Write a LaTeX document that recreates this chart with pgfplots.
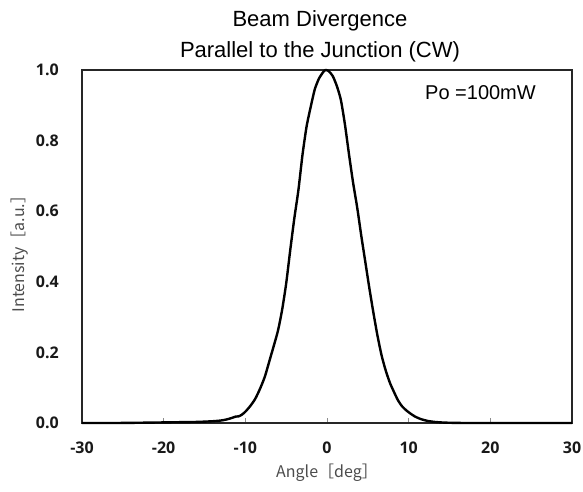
\documentclass[border=0pt]{standalone}
\usepackage{pgfplots}
\pgfplotsset{compat=1.18}
\usepackage{fontspec}
\setmainfont{Liberation Sans}
\newfontfamily\tickfont{Open Sans}
\newfontfamily\jpfont{Noto Sans CJK JP}
\begin{document}
\begin{tikzpicture}
\begin{axis}[
  at={(0pt,0pt)}, anchor=south west,
  width=490pt, height=353pt, scale only axis,
  xmin=-30, xmax=30, ymin=0, ymax=1,
  xtick={-30,-20,-10,0,10,20,30},
  xticklabels={-30,-20,-10,0,10,20,30},
  ytick={0,0.2,0.4,0.6,0.8,1.0},
  yticklabels={0.0,0.2,0.4,0.6,0.8,1.0},
  xtick pos=bottom, tick align=inside,
  major tick length=5pt,
  xtick style={draw=black!45, line width=0.8pt},
  ytick style={draw=none},
  axis line style={draw=black!85, line width=1.3pt},
  ticklabel style={font=\tickfont\bfseries\fontsize{16}{18}\selectfont, text=black!90},
  yticklabel style={inner sep=0pt, anchor=east, xshift=-23pt},
  xticklabel style={inner sep=0pt, anchor=north, yshift=-19pt},
  xlabel={Angle［deg］},
  ylabel={Intensity［a.u.］},
  label style={font=\jpfont\fontsize{16}{18}\selectfont, text=black!70},
  xlabel style={at={(axis description cs:0.5,-0.142)}, anchor=center},
  ylabel style={at={(axis description cs:-0.1265,0.49)}, anchor=center},
  clip=false,
]
\addplot[black, line width=2.4pt, line join=round, smooth, tension=0.4] coordinates {
(-30,0) (-26,0) (-22,0.001) (-19,0.002) (-16,0.003) (-14,0.005) (-13,0.007)
(-12.3,0.010) (-11.7,0.014) (-11.2,0.018) (-10.8,0.019) (-10.4,0.024) (-10.0,0.032)
(-9.4,0.048) (-8.8,0.068) (-8.2,0.097) (-7.6,0.132) (-7.0,0.180) (-6.5,0.220)
(-6.0,0.262) (-5.5,0.320) (-5.0,0.395) (-4.5,0.490) (-4.0,0.580) (-3.5,0.660)
(-3.0,0.760) (-2.5,0.840) (-2.0,0.895) (-1.5,0.945) (-1.0,0.975) (-0.5,0.993)
(-0.2,1.000) (0.2,0.997) (0.7,0.983) (1.2,0.955) (1.7,0.915) (2.2,0.845)
(2.7,0.760) (3.2,0.680) (3.7,0.610) (4.2,0.530) (4.7,0.455) (5.2,0.380)
(5.7,0.310) (6.2,0.245) (6.7,0.190) (7.2,0.148) (7.7,0.114) (8.2,0.088)
(8.7,0.064) (9.2,0.047) (9.7,0.036) (10.2,0.027) (10.8,0.018) (11.5,0.011)
(12.3,0.006) (13.2,0.003) (14.5,0.001) (17,0) (22,0) (30,0)
};
\end{axis}
\node[anchor=base, font=\fontsize{22}{26}\selectfont] at (238pt,396pt) {Beam Divergence};
\node[anchor=base, font=\fontsize{22}{26}\selectfont] at (238pt,365pt) {Parallel to the Junction (CW)};
\node[anchor=west, inner sep=0pt, font=\fontsize{20}{24}\selectfont] at (343pt,330pt) {Po =100mW};
\pgfresetboundingbox
\path (-82pt,-69pt) rectangle (501pt,423pt);
\end{tikzpicture}
\end{document}
